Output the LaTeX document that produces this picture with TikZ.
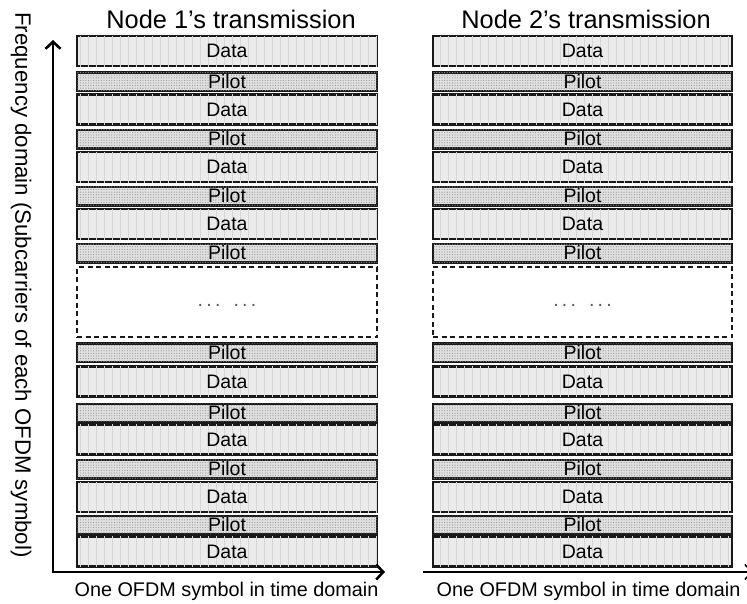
\documentclass[tikz,border=0pt]{standalone}
\usepackage{fontspec}
\setmainfont{Liberation Sans}
\usetikzlibrary{arrows.meta,patterns.meta}

\tikzset{
  band/.style={draw=black!90, line width=2.5pt, rectangle, inner sep=0pt,
    minimum width=300pt, font=\fontsize{19.5}{21}\selectfont},
  databox/.style={band, minimum height=30pt, fill=black!8,
    postaction={pattern={Lines[angle=90,distance=8pt,line width=0.8pt]}, pattern color=black!16}},
  pilotbox/.style={band, minimum height=18.5pt, fill=black!12,
    postaction={pattern={Dots[distance=2.6pt,radius=0.6pt]}, pattern color=black!40}},
  gapbox/.style={band, minimum height=70pt, line width=1.4pt, dash pattern=on 5pt off 3.5pt,
    text=black!65},
  axisline/.style={line width=2.6pt, -{Straight Barb[length=7pt,width=15pt]}},
  lbl/.style={inner sep=0pt, font=\fontsize{19.8}{22}\selectfont},
}

\begin{document}
\begin{tikzpicture}[x=1pt,y=-1pt]
\useasboundingbox (0,0) rectangle (747,603);

% subcarrier bands of both transmissions
\foreach \kind/\yc/\txt [count=\i] in {
  databox/51/Data, pilotbox/81.5/Pilot, databox/109.5/Data, pilotbox/139/Pilot,
  databox/167/Data, pilotbox/196/Pilot, databox/224/Data, pilotbox/253/Pilot,
  gapbox/302/{\raisebox{-8pt}{.\,.\,.\enspace\,.\,.\,.}},
  pilotbox/352.5/Pilot, databox/381.5/Data, pilotbox/413/Pilot, databox/439.5/Data,
  pilotbox/469/Pilot, databox/497/Data, pilotbox/525/Pilot, databox/551.5/Data}
{
  \node[\kind] (L\i) at (227,\yc) {\txt};
  \node[\kind, minimum width=299pt] (R\i) at (582.5,\yc) {\txt};
}

% axes
\coordinate (origin) at (53,572);
\coordinate (ftip) at (53,40);
\coordinate (ttip) at (385,572);
\coordinate (rstart) at (423,572);
\coordinate (rtip) at (753,572);
\draw[axisline] (origin) -- (ftip);
\draw[axisline] ([xshift=-1.3pt]origin) -- (ttip);
\draw[axisline, line width=1.6pt] (rstart) -- (rtip);

% titles and axis labels
\node[lbl, font=\fontsize{25.4}{28}\selectfont] (title1) at (231,19) {Node 1’s transmission};
\node[lbl, font=\fontsize{25.4}{28}\selectfont] (title2) at (586,19) {Node 2’s transmission};
\node[lbl] (time1) at (226.5,591) {One OFDM symbol in time domain};
\node[lbl] (time2) at (588.5,591) {One OFDM symbol in time domain};
\node[lbl, font=\fontsize{22.2}{24}\selectfont, rotate=-90] (freq) at (21,285)
  {Frequency domain (Subcarriers of each OFDM symbol)};
\end{tikzpicture}
\end{document}
